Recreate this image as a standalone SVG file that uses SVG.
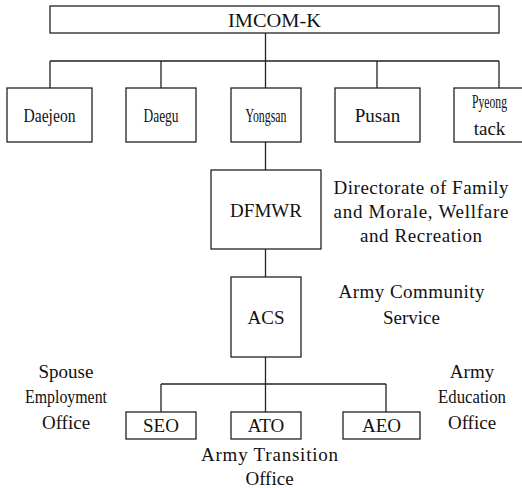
<svg xmlns="http://www.w3.org/2000/svg" width="522" height="488" viewBox="0 0 522 488">
<style>
.box{fill:#fff;stroke:#222;stroke-width:1.3}
.ln{fill:none;stroke:#222;stroke-width:1.3}
.t text{font-size:19px;fill:#111;text-anchor:middle}
</style>
<rect width="522" height="488" fill="#fff"/>
<g id="connectors">
<path class="ln" d="M265.5 33V61M50 61H499M50 61V88M161 61V88M265.5 61V88M377 61V88M499 61V88"/>
<path class="ln" d="M265.5 142V170M265.5 249V277M265.5 357V384M161 384H386M161 384V412M265.5 384V412M386 384V412"/>
</g>
<g class="t" style="font-family:'Liberation Serif','Times New Roman',serif">
<g id="imcom"><rect class="box" x="50" y="6" width="449" height="27"/><text x="274.5" y="27" textLength="93" lengthAdjust="spacingAndGlyphs">IMCOM-K</text></g>
<g id="daejeon"><rect class="box" x="7" y="88" width="85" height="54"/><text x="49.5" y="122" textLength="52" lengthAdjust="spacingAndGlyphs">Daejeon</text></g>
<g id="daegu"><rect class="box" x="126" y="88" width="70" height="54"/><text x="161" y="122" textLength="35" lengthAdjust="spacingAndGlyphs">Daegu</text></g>
<g id="yongsan"><rect class="box" x="231" y="88" width="70" height="54"/><text x="266" y="122" textLength="41" lengthAdjust="spacingAndGlyphs">Yongsan</text></g>
<g id="pusan"><rect class="box" x="335" y="88" width="85" height="54"/><text x="377.5" y="122">Pusan</text></g>
<g id="pyeongtack"><rect class="box" x="454" y="88" width="70" height="54"/><text x="489.5" y="108" textLength="35" lengthAdjust="spacingAndGlyphs">Pyeong</text><text x="489.5" y="135">tack</text></g>
<g id="dfmwr"><rect class="box" x="211" y="170" width="110" height="79"/><text x="266" y="217">DFMWR</text></g>
<g id="dfmwr-label"><text x="421" y="194" textLength="175" lengthAdjust="spacing">Directorate of Family</text><text x="421" y="218" textLength="175" lengthAdjust="spacing">and Morale, Wellfare</text><text x="421" y="242" textLength="122" lengthAdjust="spacing">and Recreation</text></g>
<g id="acs"><rect class="box" x="231" y="277" width="70" height="80"/><text x="266" y="324">ACS</text></g>
<g id="acs-label"><text x="411.5" y="298" textLength="146" lengthAdjust="spacing">Army Community</text><text x="411.5" y="324">Service</text></g>
<g id="seo"><rect class="box" x="126" y="412" width="70" height="27"/><text x="161" y="432">SEO</text></g>
<g id="ato"><rect class="box" x="231" y="412" width="70" height="27"/><text x="266" y="432">ATO</text></g>
<g id="aeo"><rect class="box" x="343" y="412" width="77" height="27"/><text x="381.5" y="432">AEO</text></g>
<g id="seo-label"><text x="66" y="378">Spouse</text><text x="66" y="403" textLength="82" lengthAdjust="spacingAndGlyphs">Employment</text><text x="66" y="429">Office</text></g>
<g id="aeo-label"><text x="472" y="378">Army</text><text x="472" y="403" textLength="68" lengthAdjust="spacingAndGlyphs">Education</text><text x="472" y="429">Office</text></g>
<g id="ato-label"><text x="269.5" y="461" textLength="137" lengthAdjust="spacing">Army Transition</text><text x="269.5" y="485">Office</text></g>
</g>
</svg>
